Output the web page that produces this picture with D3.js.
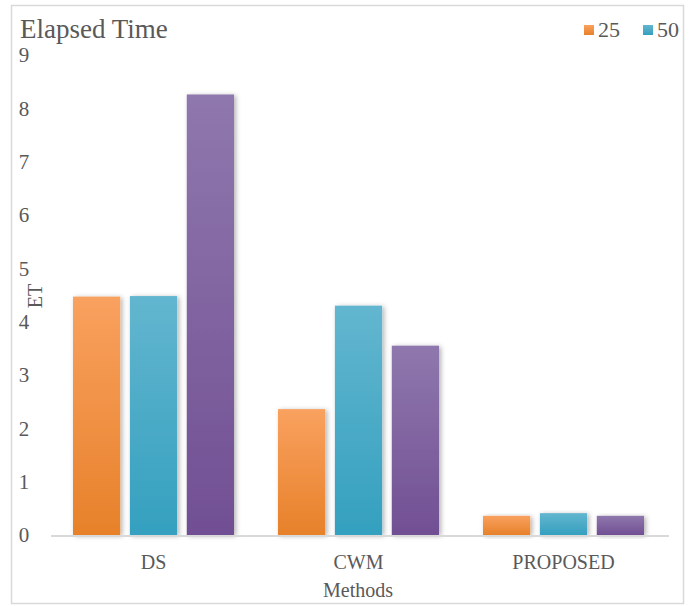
<!DOCTYPE html>
<html><head><meta charset="utf-8">
<script src="https://cdn.jsdelivr.net/npm/d3@7"></script>
<style>
html,body{margin:0;padding:0;background:#fff;}
text{font-family:"Liberation Serif","DejaVu Serif",serif;fill:#595959;}
</style></head>
<body>
<svg id="chart" width="691" height="606"></svg>
<script>
const categories = ["DS", "CWM", "PROPOSED"];
const seriesNames = ["25", "50", "100"];
const values25 = [4.47, 2.36, 0.36];
const values50 = [4.48, 4.30, 0.41];
const values100 = [8.26, 3.55, 0.36];
const yTicks = [0,1,2,3,4,5,6,7,8,9];
const colorsTop = ["#f9a15f", "#63b6cf", "#8f78ad"];
const colorsBottom = ["#e7812a", "#34a0bf", "#714f93"];

const seriesValues = [values25, values50, values100];
const svg = d3.select("#chart");

// outer frame
svg.append("rect").attr("x",11.5).attr("y",5.5).attr("width",672).attr("height",598)
  .attr("fill","#fff").attr("stroke","#d9d9d9").attr("stroke-width",1.5);

const defs = svg.append("defs");
seriesNames.forEach((s,i)=>{
  const g = defs.append("linearGradient").attr("id","g"+i).attr("x1",0).attr("y1",0).attr("x2",0).attr("y2",1);
  g.append("stop").attr("offset","0%").attr("stop-color",colorsTop[i]);
  g.append("stop").attr("offset","100%").attr("stop-color",colorsBottom[i]);
});
const f = defs.append("filter").attr("id","shadow").attr("x","-20%").attr("y","-10%").attr("width","150%").attr("height","130%");
f.append("feDropShadow").attr("dx",2).attr("dy",1).attr("stdDeviation",2.5).attr("flood-color","#000").attr("flood-opacity",0.3);

const x = d3.scaleBand().domain(categories).range([51, 666]).paddingInner(0).paddingOuter(0);
const xs = d3.scaleBand().domain(seriesNames).range([22, x.bandwidth()-22]).paddingInner(0.17).paddingOuter(0);
const y = d3.scaleLinear().domain([0, 9]).range([535, 55]);

// y labels
svg.append("g").selectAll("text").data(yTicks).join("text")
  .attr("x", 24).attr("y", d=>y(d)).attr("dy","0.35em").attr("text-anchor","middle")
  .style("font-size","21px").text(d=>d);

// bars
const groups = svg.append("g").selectAll("g").data(categories).join("g")
  .attr("transform", d=>`translate(${x(d)},0)`);
groups.selectAll("rect").data((c,ci)=>seriesNames.map((s,si)=>({s,si,v:seriesValues[si][ci]}))).join("rect")
  .attr("x", d=>xs(d.s)).attr("width", xs.bandwidth())
  .attr("y", d=>y(d.v)).attr("height", d=>y(0)-y(d.v))
  .attr("fill", d=>`url(#g${d.si})`).attr("filter","url(#shadow)");

// baseline
svg.append("line").attr("x1",51).attr("x2",669).attr("y1",y(0)+1).attr("y2",y(0)+1)
  .attr("stroke","#d9d9d9").attr("stroke-width",2);

// x labels
svg.append("g").selectAll("text").data(categories).join("text")
  .attr("x", d=>x(d)+x.bandwidth()/2).attr("y", 569).attr("text-anchor","middle")
  .style("font-size","20px").text(d=>d);

// axis titles
svg.append("text").attr("x",358).attr("y",597).attr("text-anchor","middle").style("font-size","20px").text("Methods");
svg.append("text").attr("transform","translate(42,296) rotate(-90)").attr("text-anchor","middle").style("font-size","20px").text("ET");

// title
svg.append("text").attr("x",20).attr("y",38).style("font-size","27px").text("Elapsed Time");

// legend (only first two visible)
const legendItems = [{name:seriesNames[0],i:0,x:584},{name:seriesNames[1],i:1,x:643}];
const lg = svg.append("g").selectAll("g").data(legendItems).join("g");
lg.append("rect").attr("x",d=>d.x).attr("y",25).attr("width",10).attr("height",10).attr("fill",d=>`url(#g${d.i})`);
lg.append("text").attr("x",d=>d.x+14).attr("y",37).style("font-size","22px").text(d=>d.name);
</script>
</body></html>
